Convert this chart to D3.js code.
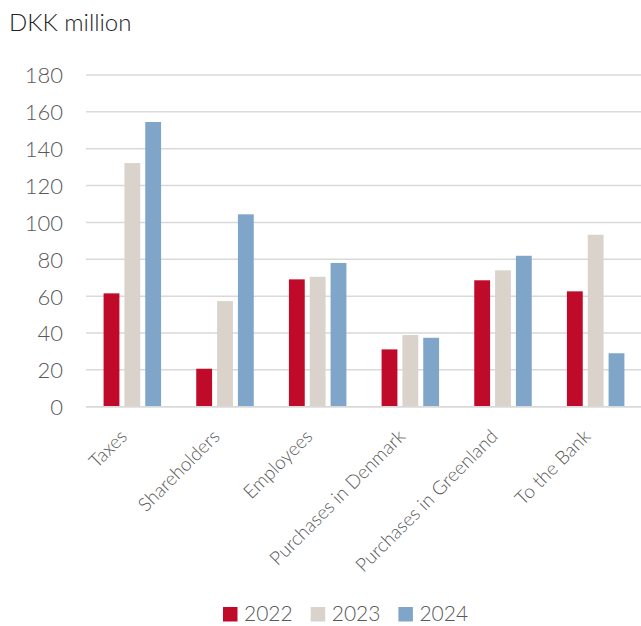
<!DOCTYPE html>
<html>
<head>
<meta charset="utf-8">
<script src="https://cdn.jsdelivr.net/npm/d3@7"></script>
<style>
  html, body { margin: 0; padding: 0; background: #fff; }
  svg { display: block; }
  text { font-family: "Gill Sans", "Gill Sans MT", Lato, "Open Sans", sans-serif; font-weight: 300; }
</style>
</head>
<body>
<svg id="chart" width="641" height="626"></svg>
<script>
// Value distributed to stakeholders, DKK million
const categories = ["Taxes", "Shareholders", "Employees", "Purchases in Denmark", "Purchases in Greenland", "To the Bank"];
const years = ["2022", "2023", "2024"];
const values2022 = [61.5, 20.6, 69.1, 31.1, 68.6, 62.6];
const values2023 = [132.2, 57.3, 70.5, 38.9, 74.0, 93.3];
const values2024 = [154.5, 104.4, 78.0, 37.4, 81.9, 29.0];
const yTicks = [0, 20, 40, 60, 80, 100, 120, 140, 160, 180];
const colors = ["#C00A2A", "#D9D3CC", "#7FA5C9"];

const series = [values2022, values2023, values2024];

const svg = d3.select("#chart");
const margin = { left: 86, top: 75, bottom: 406.7 };

const x = d3.scaleBand().domain(categories).range([margin.left, 642]).paddingInner(0).paddingOuter(0);
const yScale = d3.scaleLinear().domain([0, 180]).range([margin.bottom, margin.top]);

// inner scale for the three years within each category
const groupWidth = 57.5;
const xi = d3.scaleBand().domain(years).range([-groupWidth / 2, groupWidth / 2]).paddingInner(0.24);

// gridlines
svg.append("g")
  .selectAll("line")
  .data(yTicks)
  .join("line")
  .attr("x1", margin.left)
  .attr("x2", 641)
  .attr("y1", d => yScale(d))
  .attr("y2", d => yScale(d))
  .attr("stroke", "#D9D9D9")
  .attr("stroke-width", 1.5);

// y axis labels
const yAxis = d3.axisLeft(yScale).tickValues(yTicks).tickSize(0).tickPadding(0);
const yg = svg.append("g").attr("transform", "translate(63,0)").call(yAxis);
yg.attr("font-family", null).attr("font-size", null);
yg.select(".domain").remove();
yg.selectAll("text")
  .attr("fill", "#595959")
  .style("font-size", "22px")
  .attr("dy", "0.36em");

// bars
const groups = svg.append("g")
  .selectAll("g")
  .data(categories)
  .join("g")
  .attr("transform", d => `translate(${x(d) + x.bandwidth() / 2},0)`);

groups.selectAll("rect")
  .data((c, i) => years.map((yr, j) => ({ yr, j, v: series[j][i] })))
  .join("rect")
  .attr("x", d => xi(d.yr))
  .attr("width", xi.bandwidth())
  .attr("y", d => yScale(d.v))
  .attr("height", d => yScale(0) - yScale(d.v))
  .attr("fill", d => colors[d.j]);

// baseline
svg.append("line")
  .attr("x1", margin.left).attr("x2", 641)
  .attr("y1", yScale(0)).attr("y2", yScale(0))
  .attr("stroke", "#D9D9D9").attr("stroke-width", 1.5);

// category labels, rotated
svg.append("g")
  .selectAll("text")
  .data(categories)
  .join("text")
  .attr("transform", d => `translate(${x(d) + x.bandwidth() / 2 - 4},${yScale(0) + 31}) rotate(-45)`)
  .attr("text-anchor", "end")
  .attr("fill", "#595959")
  .style("font-size", "19px")
  .text(d => d);

// title
svg.append("text")
  .attr("x", 9)
  .attr("y", 31)
  .attr("fill", "#222")
  .style("font-size", "24px")
  .text("DKK million");

// legend
const legend = svg.append("g")
  .selectAll("g")
  .data(years)
  .join("g")
  .attr("transform", (d, i) => `translate(${223 + i * 87.7},0)`);
legend.append("rect")
  .attr("x", 0).attr("y", 607)
  .attr("width", 14.5).attr("height", 14.5)
  .attr("fill", (d, i) => colors[i]);
legend.append("text")
  .attr("x", 21).attr("y", 621)
  .attr("fill", "#595959")
  .style("font-size", "21px")
  .text(d => d);
</script>
</body>
</html>
